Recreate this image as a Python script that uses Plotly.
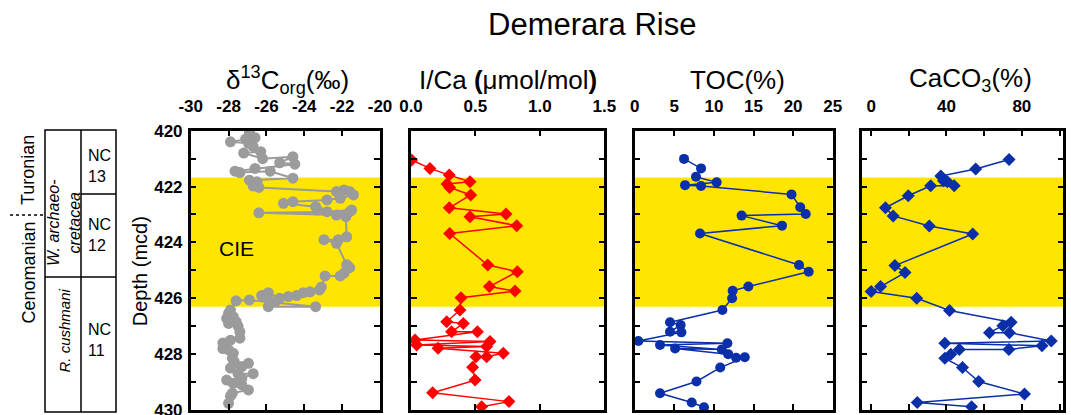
import plotly.graph_objects as go

# ---------------- data ----------------
d13c_depth = [420.05, 420.15, 420.25, 420.30, 420.40, 420.45, 420.57, 420.75, 420.80, 421.00, 420.93,
              421.15, 421.20, 421.35, 421.45, 421.50, 421.45, 421.70, 421.77, 421.83, 421.98, 422.03,
              422.18, 422.12, 422.18, 422.30, 422.42, 422.48, 422.54, 422.60, 422.72, 422.84, 422.90,
              422.84, 422.90, 422.94, 423.02, 423.08, 423.80, 423.90, 423.90, 424.03, 424.80, 424.90,
              425.10, 425.20, 425.20, 425.60, 425.70, 425.77, 425.80, 425.90, 425.94, 426.00, 425.80,
              425.90, 426.06, 426.10, 426.30, 426.30, 426.06, 426.09, 426.42, 426.54, 426.66, 426.72,
              426.84, 426.90, 427.00, 427.20, 427.43, 427.50, 427.60, 427.80, 427.85, 427.97, 428.15,
              428.27, 428.33, 428.45, 428.50, 428.70, 428.70, 428.87, 428.93, 429.05, 429.10, 429.28,
              429.40, 429.50, 429.76]
d13c_val = [-26.9, -26.87, -26.6, -27.1, -27.9, -26.95, -26.7, -26.3, -27.2, -26.2, -24.6,
            -25.3, -24.5, -26.6, -27.66, -27.4, -25.8, -24.6, -26.9, -26.5, -26.7, -26.4,
            -22.3, -21.9, -21.6, -21.4, -22.1, -22.8, -24.6, -25.1, -23.4, -23.3, -22.8,
            -21.5, -21.6, -26.4, -22.3, -21.8, -21.76, -22.2, -22.96, -22.3, -21.76, -21.6,
            -21.9, -22.1, -22.9, -23.1, -23.2, -23.7, -24.05, -24.4, -24.85, -25.3, -25.9,
            -26.25, -25.9, -25.5, -25.9, -23.4, -26.9, -27.6, -27.9, -28.0, -27.75, -28.1,
            -27.6, -28.0, -27.5, -27.4, -27.4, -27.9, -28.3, -28.3, -28.0, -27.75, -27.8,
            -27.7, -26.95, -27.3, -27.9, -27.5, -26.7, -27.3, -28.1, -27.75, -27.3, -26.95,
            -27.8, -27.9, -28.0]

ica_depth = [421.05, 421.35, 421.59, 421.83, 421.91, 422.03, 422.30, 422.76, 422.98, 423.08, 423.40,
             423.68, 424.81, 425.05, 425.58, 425.74, 425.98, 426.42, 426.84, 426.90, 427.20, 427.20,
             427.49, 427.55, 427.67, 427.73, 427.79, 427.97, 428.09, 428.09, 428.47, 428.93, 429.38,
             429.70, 429.88]
ica_val = [0.005, 0.147, 0.297, 0.458, 0.28, 0.30, 0.463, 0.297, 0.737, 0.458, 0.82,
           0.30, 0.595, 0.825, 0.608, 0.807, 0.388, 0.38, 0.277, 0.406, 0.315, 0.515,
           0.031, 0.613, 0.044, 0.587, 0.21, 0.716, 0.587, 0.504, 0.478, 0.497, 0.168,
           0.76, 0.548]

toc_depth = [421.01, 421.35, 421.65, 421.85, 421.95, 421.98, 422.28, 422.74, 422.98, 423.04, 423.40,
             423.68, 424.81, 425.05, 425.58, 425.73, 426.00, 426.42, 426.86, 426.96, 427.20, 427.22,
             427.53, 427.61, 427.67, 427.83, 427.80, 428.00, 428.13, 428.11, 428.48, 428.98, 429.40,
             429.73, 429.90]
toc_val = [6.23, 8.38, 7.74, 10.35, 6.36, 8.38, 19.8, 20.9, 21.6, 13.5, 18.6,
           8.25, 20.75, 21.97, 14.35, 12.37, 12.3, 11.07, 4.46, 5.8, 4.46, 5.9,
           0.46, 11.7, 3.2, 11.0, 5.1, 11.8, 12.8, 13.9, 10.8, 7.8, 3.2,
           7.2, 8.75]

caco3_depth = [421.03, 421.37, 421.62, 421.79, 421.83, 421.97, 421.97, 422.33, 422.76, 423.05, 423.41,
               423.70, 424.83, 425.08, 425.58, 425.76, 426.00, 426.44, 426.86, 426.98, 427.23, 427.23,
               427.53, 427.61, 427.70, 427.83, 427.83, 428.00, 428.15, 428.48, 428.98, 429.43, 429.73,
               429.88]
caco3_val = [73.2, 55.5, 37.0, 38.4, 40.5, 44.1, 31.6, 19.7, 7.6, 11.7, 30.9,
             53.9, 12.6, 18.0, 5.0, 0.0, 24.2, 41.6, 74.3, 69.9, 62.8, 73.4,
             95.6, 39.1, 90.7, 73.1, 46.8, 42.3, 39.1, 48.5, 57.1, 81.4, 24.5,
             53.3]

cie_top, cie_bottom = 421.68, 426.30
depth_range = [430, 420]

d13c_ticks = [-30, -28, -26, -24, -22, -20]
d13c_ticktext = ["-30", "-28", "-26", "-24", "-22", "-20"]

panel_titles = ["δ<sup>13</sup>C<sub>org</sub>(‰)", "I/Ca <b>(</b>μmol/mol<b>)</b>", "TOC(%)",
                "CaCO<sub>3</sub>(%)"]

# ---------------- layout helpers ----------------
W, H = 1071, 415
def px(x):
    return x / W
def py(y):
    return 1 - y / H

FONT = "Liberation Sans, Arial, sans-serif"
doms = [(190.7, 380.0), (411.0, 604.3), (634.7, 832.7), (861.7, 1063.3)]
ydom = [py(410.0), py(130.7)]

fig = go.Figure()

grey = "#9b9b9b"
blue = "#0a2fa8"
red = "#ff0000"

fig.add_trace(go.Scatter(x=d13c_val, y=d13c_depth, mode="lines+markers", xaxis="x", yaxis="y",
                         line=dict(color=grey, width=2), marker=dict(color=grey, size=11, symbol="circle"),
                         showlegend=False))
fig.add_trace(go.Scatter(x=ica_val, y=ica_depth, mode="lines+markers", xaxis="x2", yaxis="y2",
                         line=dict(color=red, width=1.5), marker=dict(color=red, size=10, symbol="diamond"),
                         showlegend=False))
fig.add_trace(go.Scatter(x=toc_val, y=toc_depth, mode="lines+markers", xaxis="x3", yaxis="y3",
                         line=dict(color=blue, width=1.5), marker=dict(color=blue, size=10, symbol="circle"),
                         showlegend=False))
fig.add_trace(go.Scatter(x=caco3_val, y=caco3_depth, mode="lines+markers", xaxis="x4", yaxis="y4",
                         line=dict(color=blue, width=1.5), marker=dict(color=blue, size=10, symbol="diamond"),
                         showlegend=False))

tickfont = dict(family=FONT, size=17, color="black", weight="bold")
minor_common = dict(ticks="inside", ticklen=6, tickwidth=2, tickcolor="black", showgrid=False)
axis_common = dict(showline=True, linecolor="black", linewidth=2.5, mirror="ticks",
                   ticks="inside", ticklen=6, tickwidth=2, tickcolor="black",
                   showgrid=False, zeroline=False, automargin=False, ticklabeloverflow="allow")

xaxes = [
    dict(range=[-30, -20], tickvals=d13c_ticks, ticktext=d13c_ticktext),
    dict(range=[0, 1.5], tick0=0, dtick=0.5, tickformat=".1f"),
    dict(range=[0, 25], tick0=0, dtick=5),
    dict(range=[-5, 102], tick0=0, dtick=40, minor=dict(tick0=0, dtick=20, **minor_common)),
]
lay = {}
for i, (d, xa) in enumerate(zip(doms, xaxes)):
    k = "" if i == 0 else str(i + 1)
    lay["xaxis" + k] = dict(domain=[px(d[0]), px(d[1])], anchor="y" + k, side="top",
                            tickfont=tickfont, ticklabelstandoff=9, **axis_common, **xa)
    ya = dict(domain=ydom, anchor="x" + k, range=depth_range, tick0=420, dtick=2,
              minor=dict(tick0=420, dtick=1, **minor_common), **axis_common)
    if i == 0:
        ya["tickfont"] = tickfont
        ya["ticklabelstandoff"] = 2
    else:
        ya["showticklabels"] = False
    lay["yaxis" + k] = ya

shapes = []
for i in range(4):
    k = "" if i == 0 else str(i + 1)
    shapes.append(dict(type="rect", xref=("x" + k + " domain"), yref="y" + k, x0=0, x1=1,
                       y0=cie_top, y1=cie_bottom, fillcolor="#ffe500", line=dict(width=0), layer="below"))

# stratigraphic column (layout positions)
lc = dict(color="black", width=1.5)
bx_l, bx_m, bx_r, bx_t, bx_b = 45, 81, 116, 130, 412
shapes += [
    dict(type="rect", xref="paper", yref="paper", x0=px(bx_l), x1=px(bx_r), y0=py(bx_b), y1=py(bx_t), line=lc),
    dict(type="line", xref="paper", yref="paper", x0=px(bx_m), x1=px(bx_m), y0=py(bx_b), y1=py(bx_t), line=lc),
    dict(type="line", xref="paper", yref="paper", x0=px(bx_m), x1=px(bx_r), y0=py(194), y1=py(194), line=lc),
    dict(type="line", xref="paper", yref="paper", x0=px(bx_l), x1=px(bx_r), y0=py(277), y1=py(277), line=lc),
    dict(type="line", xref="paper", yref="paper", x0=px(10), x1=px(bx_l), y0=py(215), y1=py(215),
         line=dict(color="black", width=1.5, dash="dot")),
]

ann = []
def text(x, y, s, size, angle=0, italic=False, xa="center", ya="middle"):
    ann.append(dict(x=px(x), y=py(y), xref="paper", yref="paper", text=s, showarrow=False,
                    textangle=angle, xanchor=xa, yanchor=ya,
                    font=dict(family=FONT, size=size, color="black", style="italic" if italic else "normal")))

text(592, 24, "Demerara Rise", 31)
centers = [287.5, 508, 737.5, 970]
for c, t in zip(centers, panel_titles):
    text(c, 80, t, 26)
text(139.5, 271.7, "Depth (mcd)", 20, angle=-90)
text(28, 170, "Turonian", 18, angle=-90)
text(28, 272.5, "Cenomanian", 18, angle=-90)
text(64, 223, "W. archaeo-<br>cretacea", 16, angle=-90, italic=True)
text(63.5, 331, "R. cushmani", 15, angle=-90, italic=True)
for yy, lbl in [(166, "NC<br>13"), (235, "NC<br>12"), (340, "NC<br>11")]:
    ann.append(dict(x=px(86), y=py(yy), xref="paper", yref="paper", text=lbl, showarrow=False,
                    xanchor="left", yanchor="middle", align="left",
                    font=dict(family=FONT, size=16, color="black")))
ann.append(dict(x=-28.6, y=424.2, xref="x", yref="y", text="CIE", showarrow=False, xanchor="left",
                yanchor="middle", font=dict(family=FONT, size=21, color="black")))

fig.update_layout(template="none", width=W, height=H, margin=dict(l=0, r=0, t=0, b=0, pad=0),
                  paper_bgcolor="white", plot_bgcolor="white", font=dict(family=FONT, color="black"),
                  shapes=shapes, annotations=ann, showlegend=False, **lay)

fig.write_html("out.html", config={"displayModeBar": False},
               post_script="document.body.style.margin='0';document.body.style.overflow='hidden';")
